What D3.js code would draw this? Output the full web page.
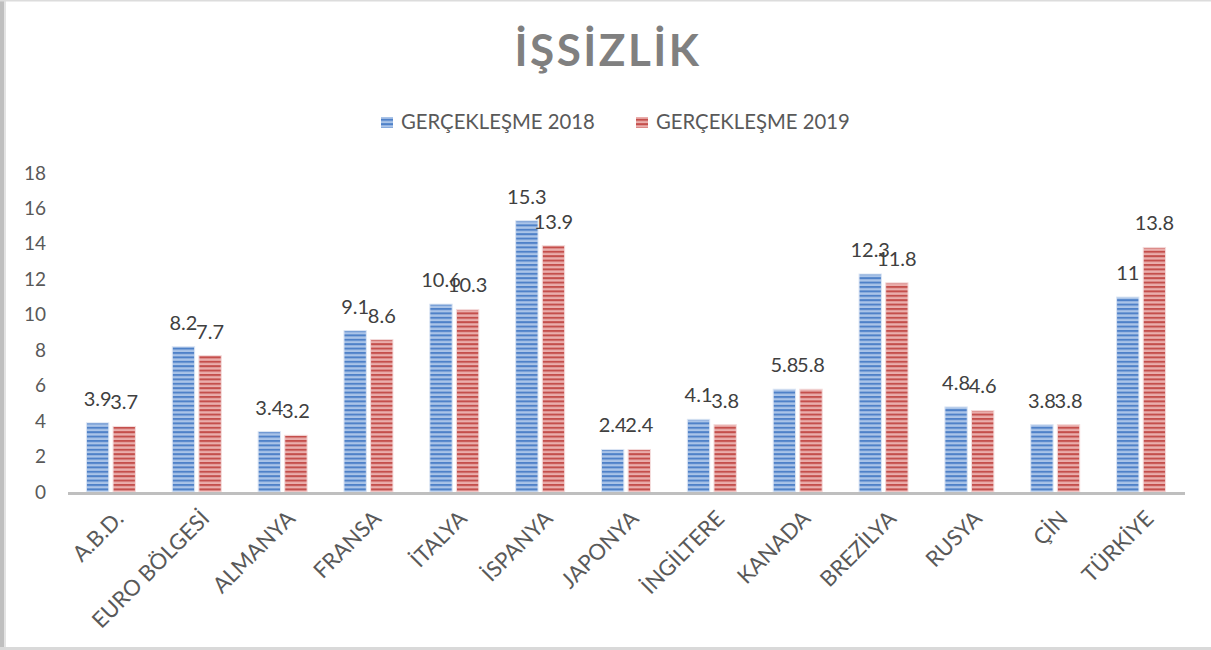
<!DOCTYPE html>
<html><head><meta charset="utf-8">
<script src="https://cdn.jsdelivr.net/npm/d3@7"></script>
<style>
html,body{margin:0;padding:0;background:#fff;}
svg{display:block;font-family:Lato,"Open Sans",sans-serif;}
</style></head>
<body>
<svg id="chart" width="1211" height="650"></svg>
<script>
const categories = ["A.B.D.","EURO BÖLGESİ","ALMANYA","FRANSA","İTALYA","İSPANYA","JAPONYA","İNGİLTERE","KANADA","BREZİLYA","RUSYA","ÇİN","TÜRKİYE"];
const values2018 = [3.9,8.2,3.4,9.1,10.6,15.3,2.4,4.1,5.8,12.3,4.8,3.8,11];
const values2019 = [3.7,7.7,3.2,8.6,10.3,13.9,2.4,3.8,5.8,11.8,4.6,3.8,13.8];
const seriesNames = ["GERÇEKLEŞME 2018","GERÇEKLEŞME 2019"];
const yTicks = [0,2,4,6,8,10,12,14,16,18];

const svg = d3.select("#chart");
const W = 1211, H = 650;

// frame
svg.append("rect").attr("x",0).attr("y",0).attr("width",W).attr("height",H).attr("fill","#fff");
svg.append("rect").attr("x",0).attr("y",0).attr("width",4).attr("height",H).attr("fill","#bfbfbf");
svg.append("rect").attr("x",4).attr("y",0).attr("width",2).attr("height",H).attr("fill","#e3e3e3");
svg.append("rect").attr("x",0).attr("y",0).attr("width",W).attr("height",1.5).attr("fill","#dcdcdc");
svg.append("rect").attr("x",0).attr("y",647).attr("width",W).attr("height",3).attr("fill","#d9d9d9");

// patterns
const defs = svg.append("defs");
function stripe(id, dark, light){
  const p = defs.append("pattern").attr("id",id).attr("patternUnits","userSpaceOnUse")
    .attr("width",8).attr("height",4.4);
  p.append("rect").attr("width",8).attr("height",4.4).attr("fill",light);
  p.append("rect").attr("y",0).attr("width",8).attr("height",2).attr("fill",dark);
}
stripe("pBlue","#4f81c8","#aac4e8");
stripe("pRed","#c44f4c","#eaaeac");

const x0 = d3.scaleBand().domain(categories).range([68,1184]).paddingInner(0).paddingOuter(0);
const x1 = d3.scaleBand().domain([0,1]).range([x0.bandwidth()/2-24.5, x0.bandwidth()/2+24.5]).paddingInner(0.16);
const y = d3.scaleLinear().domain([0,18]).range([492,173]);

// title
svg.append("text").attr("x",608).attr("y",66).attr("text-anchor","middle")
  .attr("font-size",44).attr("font-weight","bold").attr("fill","#808080")
  .attr("letter-spacing",2.5).text("İŞSİZLİK");

// legend
const leg = [{x:381,name:seriesNames[0],fill:"url(#pBlue)"},{x:636,name:seriesNames[1],fill:"url(#pRed)"}];
leg.forEach(l=>{
  svg.append("rect").attr("x",l.x).attr("y",117).attr("width",12).attr("height",11).attr("fill",l.fill);
  svg.append("text").attr("x",l.x+20).attr("y",129).attr("font-size",20.3).attr("fill","#595959").text(l.name);
});

// y axis labels
const yAxis = d3.axisLeft(y).tickValues(yTicks).tickSize(0).tickPadding(0);
const gy = svg.append("g").attr("transform","translate(46,0)").call(yAxis);
gy.select(".domain").remove();
gy.selectAll("text").attr("font-size",19).attr("fill","#595959").attr("font-family","Lato, 'Open Sans', sans-serif");

// bars
const series = [values2018, values2019];
const fills = ["url(#pBlue)","url(#pRed)"];
const edge = ["#dce6f4","#f4dcdc"];
series.forEach((vals,si)=>{
  svg.append("g").selectAll("rect").data(vals).join("rect")
    .attr("x",(d,i)=>x0(categories[i])+x1(si))
    .attr("y",d=>y(d))
    .attr("width",x1.bandwidth())
    .attr("height",d=>y(0)-y(d))
    .attr("fill",fills[si])
    .attr("stroke",edge[si]).attr("stroke-width",1);
  svg.append("g").selectAll("text").data(vals).join("text")
    .attr("x",(d,i)=>x0(categories[i])+x1(si)+x1.bandwidth()/2)
    .attr("y",d=>y(d)-17)
    .attr("text-anchor","middle").attr("font-size",20).attr("fill","#404040")
    .text(d=>String(d));
});

// x axis line
svg.append("line").attr("x1",68).attr("x2",1185).attr("y1",y(0)+1.5).attr("y2",y(0)+1.5)
  .attr("stroke","#bfbfbf").attr("stroke-width",3);

// x labels
const xAxis = d3.axisBottom(x0).tickSize(0).tickPadding(0);
const gx = svg.append("g").attr("transform",`translate(0,${y(0)})`).call(xAxis);
gx.select(".domain").remove();
gx.selectAll("text")
  .attr("font-size",22).attr("fill","#595959").attr("font-family","Lato, 'Open Sans', sans-serif")
  .attr("text-anchor","end").attr("dy",null).attr("y",0)
  .attr("transform","translate(14,28) rotate(-45)");
</script>
</body></html>
